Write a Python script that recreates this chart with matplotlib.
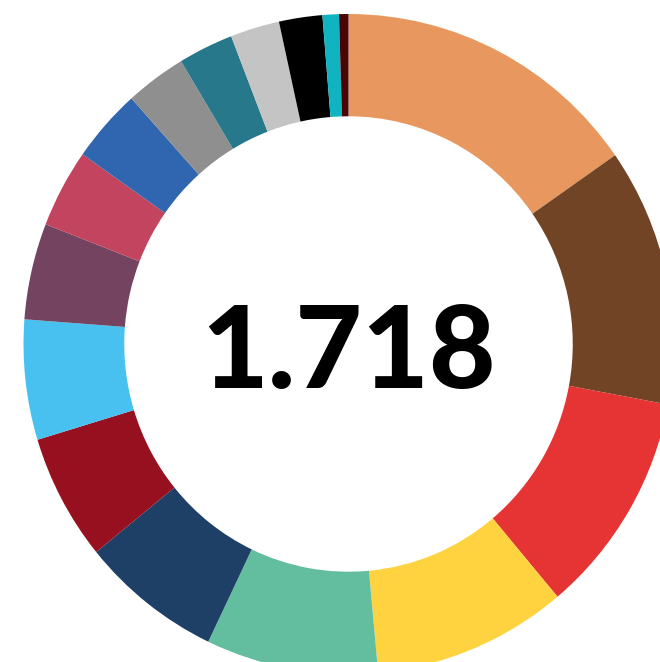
import matplotlib
matplotlib.use("Agg")
import matplotlib.pyplot as plt

# slice values (total 1.718), clockwise from 12 o'clock
values = [263, 217, 188, 166, 147, 121, 106, 101, 81, 66, 62, 52, 47, 42, 37, 14, 8]
colors = ['#E8985E', '#704424', '#E63434', '#FFD23F', '#63BEA0', '#1E3F66',
          '#961020', '#48C1F0', '#74435F', '#C3445E', '#3065B0', '#8F8F8F',
          '#26788A', '#C4C4C4', '#000000', '#10B4C0', '#4A0404']
total_label = '1.718'

fig = plt.figure(figsize=(6.6, 6.62), dpi=100)
ax = fig.add_axes([0, 0, 1, 1])

ax.pie(values, colors=colors, startangle=90, counterclock=False, radius=1,
       wedgeprops=dict(width=0.31, linewidth=0))

# center of ring sits at pixel (348.5, 344); ring is a touch taller than wide
sx, sy = 325.0, 330.0
ax.set_xlim(-348.5 / sx, (660 - 348.5) / sx)
ax.set_ylim(-(662 - 344) / sy, 344 / sy)
ax.set_aspect('auto')
ax.axis('off')

ax.text(0, -0.033, total_label, ha='center', va='center', fontsize=83,
        fontweight='black', family=['Lato', 'DejaVu Sans'], color='black')

fig.savefig('out.png', dpi=100)
